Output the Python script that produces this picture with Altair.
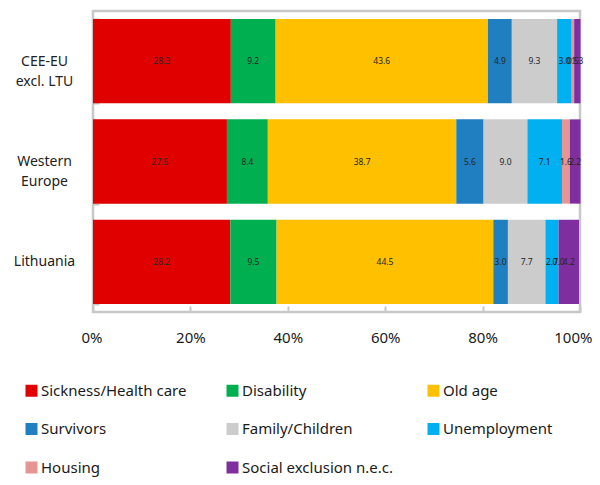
import altair as alt
import pandas as pd

regions = ["CEE-EU|excl. LTU", "Western|Europe", "Lithuania"]
categories = ["Sickness/Health care", "Disability", "Old age", "Survivors",
              "Family/Children", "Unemployment", "Housing", "Social exclusion n.e.c."]
colors = ["#e00000", "#00b050", "#ffc000", "#1f7fc0",
          "#cccccc", "#00b0f0", "#e69595", "#7f2ea0"]
cee_values = [28.3, 9.2, 43.6, 4.9, 9.3, 3.0, 0.5, 1.3]
west_values = [27.5, 8.4, 38.7, 5.6, 9.0, 7.1, 1.6, 2.2]
ltu_values = [28.2, 9.5, 44.5, 3.0, 7.7, 2.7, 0.0, 4.2]
x_ticks = [0, 20, 40, 60, 80, 100]

rows = []
for region, vals in zip(regions, [cee_values, west_values, ltu_values]):
    for i, (cat, v) in enumerate(zip(categories, vals)):
        rows.append({"region": region, "category": cat, "order": i, "value": v})
df = pd.DataFrame(rows)

FONT = "Noto Sans"
GRID = "#c8c8c8"

base = alt.Chart(df).transform_stack(
    stack="value", groupby=["region"], as_=["x0", "x1"],
    sort=[alt.SortField("order", order="ascending")]
).transform_calculate(
    mid="(datum.x0 + datum.x1) / 2",
    label="format(datum.value, '.1f')"
)

y_enc = alt.Y(
    "region:N", sort=regions,
    scale=alt.Scale(paddingInner=0.16, paddingOuter=0.08),
    axis=alt.Axis(title=None, domain=False, ticks=True, tickBand="extent",
                  tickSize=6, tickWidth=2, tickColor=GRID, offset=-6,
                  labelAlign="center", labelBaseline="middle", labelPadding=49,
                  labelFontSize=14, labelFont=FONT, labelColor="#222222",
                  labelLineHeight=20, labelExpr="split(datum.label, '|')")
)

x_enc = alt.X(
    "x0:Q", scale=alt.Scale(domain=[0, 100], nice=False),
    axis=alt.Axis(title=None, domain=False, grid=False, values=x_ticks,
                  tickSize=6, tickWidth=2, tickColor=GRID, offset=-6,
                  labelFlush=True, labelFlushOffset=12,
                  labelPadding=18, labelFontSize=15, labelFont=FONT,
                  labelColor="#1a1a1a", labelExpr="datum.value + '%'")
)

bars = base.mark_bar().encode(
    y=y_enc,
    x=x_enc,
    x2="x1:Q",
    order=alt.Order("order:Q"),
    color=alt.Color(
        "category:N",
        scale=alt.Scale(domain=categories, range=colors),
        legend=alt.Legend(title=None, orient="none", legendX=-69, legendY=372,
                          direction="horizontal",
                          columns=3, gridAlign="all", columnPadding=33,
                          rowPadding=22.5, symbolType="square", symbolSize=144,
                          symbolStrokeWidth=0, symbolOpacity=1,
                          labelFontSize=15, labelFont=FONT, labelColor="#1a1a1a",
                          labelOffset=2, labelLimit=0, padding=0)
    )
)

text = base.mark_text(fontSize=8.5, font=FONT, color="#262626").encode(
    y=alt.Y("region:N", sort=regions),
    x=alt.X("mid:Q"),
    text="label:N"
)

chart = alt.layer(bars, text).properties(
    width=487, height=301,
    padding={"left": 85, "top": 3, "right": 12, "bottom": 165},
    autosize="none"
).configure_view(stroke=GRID, strokeWidth=2.5)

chart.save("out.html", embed_options={"renderer": "svg", "actions": False})
